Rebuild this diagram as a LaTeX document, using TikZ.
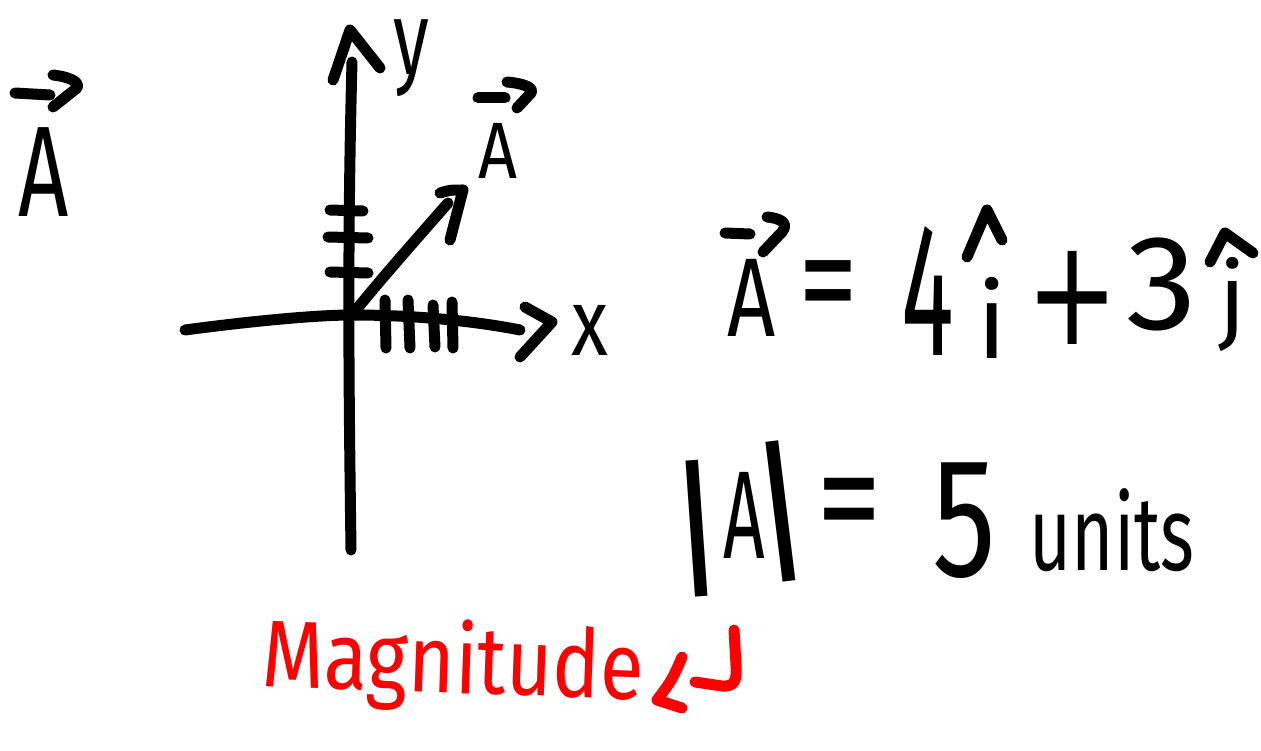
\documentclass[tikz,border=0pt]{standalone}
\usepackage{fontspec}
\setmainfont{Fira Sans}
\newfontfamily\dvs{DejaVu Sans}
\usepackage{graphicx}
\newcommand{\fsz}[1]{\fontsize{#1}{#1}\selectfont}
\definecolor{pen}{RGB}{0,0,0}
\definecolor{redpen}{RGB}{255,0,0}
\begin{document}
\begin{tikzpicture}[x=1pt,y=-1pt,
  stroke/.style={draw=pen,line width=11pt,line cap=round,line join=round},
  redstroke/.style={draw=redpen,line width=11pt,line cap=round,line join=round},
  lbl/.style={inner sep=0pt,outer sep=0pt,anchor=center,text=pen},
  ]
\fill[white] (0,0) rectangle (1261,751);
\useasboundingbox (0,0) rectangle (1261,751);

% ---------- left vector symbol ----------
\node[lbl] (aleft) at (44,172) {\fsz{129}\scalebox{0.68}[1]{A}};
\draw[stroke] (15,93) -- (50,95);
\draw[stroke] (53,75) .. controls (70,77) and (80,82) .. (77,88) -- (53,107);

% ---------- axes ----------
\coordinate (o) at (352,315);
\draw[stroke] (352,62) .. controls (347,250) and (349,400) .. (351,550);
\draw[stroke] (333,80) -- (350,30) -- (380,68);
\draw[stroke] (185,330) .. controls (260,320) and (320,315) .. (o)
              .. controls (420,315) and (480,322) .. (520,330);
\draw[stroke] (525,307) -- (552,322) -- (520,357);
% ticks on x axis
\draw[stroke] (385,300) -- (386,348);
\draw[stroke] (408,300) -- (410,348);
\draw[stroke] (433,305) -- (435,347);
\draw[stroke] (452,302) -- (453,348);
% ticks on y axis
\draw[stroke] (330,210) -- (363,211);
\draw[stroke] (328,237) -- (368,238);
\draw[stroke] (330,272) -- (368,273);
% axis labels
\node[lbl] (ylab) at (411,58) {\fsz{104}\scalebox{0.7}[1]{y}};
\node[lbl] (xlab) at (590,330) {\fsz{95}\scalebox{0.8}[1]{x}};

% ---------- vector A ----------
\draw[stroke] (o) .. controls (380,280) and (420,235) .. (448,203);
\draw[stroke] (440,193) .. controls (450,190) .. (463,190) -- (450,240);
\node[lbl] (alab) at (498,151) {\fsz{80}\scalebox{0.85}[1]{A}};
\draw[stroke] (478,98) -- (505,98);
\draw[stroke] (507,82) .. controls (520,83) and (535,87) .. (531,93) -- (517,108);

% ---------- A = 4i + 3j ----------
\node[lbl] (eqA) at (752,298) {\fsz{112}\scalebox{0.75}[1]{A}};
\draw[stroke] (725,233) -- (750,234);
\draw[stroke] (767,217) .. controls (778,218) and (790,222) .. (782,232) -- (763,252);
\node[lbl] (eqeq) at (828,296) {\fsz{150}\scalebox{0.8}[1]{=}};
\node[lbl] (four) at (928,291) {\fsz{190}\scalebox{0.52}[1]{4}};
\node[lbl] (ivec) at (992,318) {\fsz{104}i};
\draw[stroke] (967,257) -- (987,210) -- (1002,240);
\node[lbl] (plus) at (1073,298) {\dvs\fsz{110}\scalebox{1}[1.35]{+}};
\node[lbl] (three) at (1162,284) {\fsz{135}\scalebox{1.05}[1]{3}};
\node[lbl] (jvec) at (1233,305) {\fsz{95}j};
\draw[stroke] (1210,262) -- (1225,233) -- (1253,253);

% ---------- |A| = 5 units ----------
\node[lbl,rotate=4] (bar1) at (697,529) {\fsz{150}|};
\node[lbl] (absA) at (744,515) {\fsz{125}\scalebox{0.58}[1]{A}};
\node[lbl,rotate=7] (bar2) at (781,511) {\fsz{155}|};
\node[lbl] (eqeq2) at (849,514) {\fsz{155}\scalebox{0.85}[1]{=}};
\node[lbl] (five) at (964,521) {\fsz{170}\scalebox{0.75}[1]{5}};
\node[lbl] (units) at (1112,530) {\fsz{105}\scalebox{0.69}[1]{units}};

% ---------- Magnitude ----------
\node[inner sep=0pt,outer sep=0pt,anchor=base,text=redpen,rotate=-2] (mag) at (452,693)
  {\fsz{95}\scalebox{0.84}[1]{Magnitude}};
\draw[redstroke] (682,657) .. controls (672,680) .. (657,700) -- (682,708);
\draw[redstroke] (695,682) -- (722,686) .. controls (735,687) and (737,680) .. (736,665) -- (734,630);
\end{tikzpicture}
\end{document}
